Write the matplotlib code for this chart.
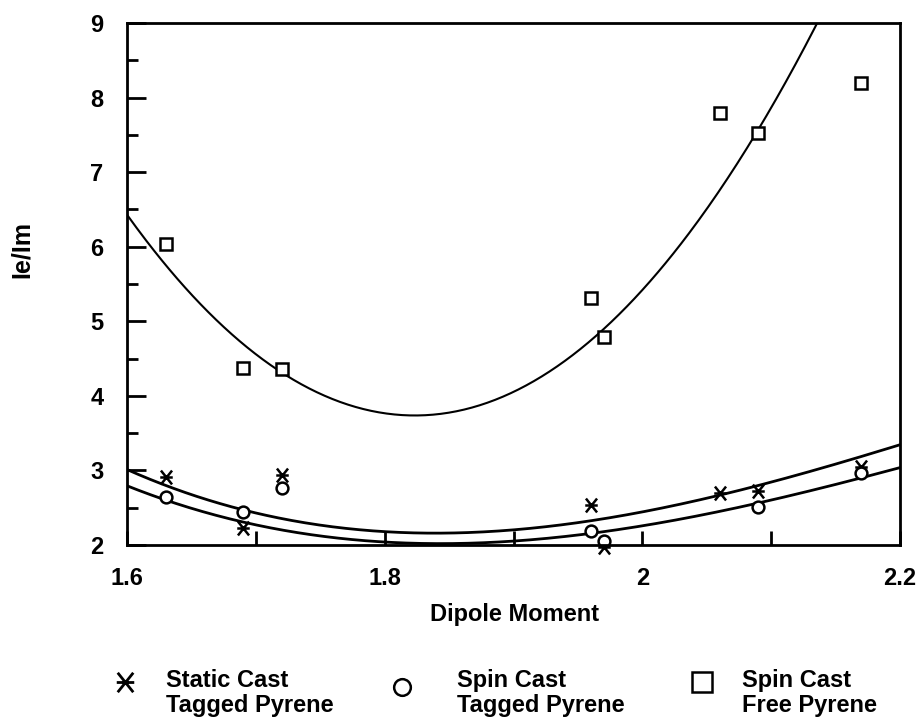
import numpy as np
import matplotlib
matplotlib.use("Agg")
import matplotlib.pyplot as plt
from matplotlib.lines import Line2D
from matplotlib.path import Path

plt.rcParams['font.family'] = ['Liberation Sans', 'DejaVu Sans']

# Static Cast Tagged Pyrene
static_x = [1.63, 1.69, 1.72, 1.96, 1.97, 2.06, 2.09, 2.17]
static_y = [2.91, 2.23, 2.94, 2.54, 1.97, 2.70, 2.72, 3.05]
# Spin Cast Tagged Pyrene
spin_x = [1.63, 1.69, 1.72, 1.96, 1.97, 2.09, 2.17]
spin_y = [2.64, 2.44, 2.76, 2.19, 2.05, 2.51, 2.97]
# Spin Cast Free Pyrene
free_x = [1.63, 1.69, 1.72, 1.96, 1.97, 2.06, 2.09, 2.17]
free_y = [6.03, 4.38, 4.36, 5.31, 4.79, 7.79, 7.53, 8.20]

# fitted curves, points
curve_free_x = [1.6, 1.7, 1.812, 1.962, 2.135]
curve_free_y = [6.47, 4.5, 3.72, 4.84, 8.95]
curve_static_x = [1.6, 1.69, 1.812, 1.848, 1.96, 2.06, 2.2]
curve_static_y = [3.0, 2.50, 2.17, 2.13, 2.33, 2.68, 3.34]
curve_spin_x = [1.6, 1.69, 1.812, 1.86, 1.96, 2.09, 2.2]
curve_spin_y = [2.78, 2.34, 2.03, 1.99, 2.16, 2.58, 3.03]

# X with a horizontal bar
xbar = Path([(-0.8, -1), (0.8, 1), (-0.8, 1), (0.8, -1), (-0.9, 0), (0.9, 0)],
            [Path.MOVETO, Path.LINETO, Path.MOVETO, Path.LINETO, Path.MOVETO, Path.LINETO])

fig = plt.figure(figsize=(9.22, 7.25), dpi=100)
ax = fig.add_axes([127/922, 1-545/725, (900-127)/922, (545-23)/725])

xx = np.linspace(1.6, 2.2, 400)
p_free = np.polyfit(curve_free_x, curve_free_y, 2)
ax.plot(xx, np.polyval(p_free, xx), color='black', lw=1.5)
for cx, cy in ((curve_static_x, curve_static_y), (curve_spin_x, curve_spin_y)):
    p = np.polyfit(cx, cy, 3)
    ax.plot(xx, np.polyval(p, xx), color='black', lw=2)

ax.plot(static_x, static_y, linestyle='none', marker=xbar, ms=10, mew=1.8, color='black', clip_on=False)
ax.plot(spin_x, spin_y, linestyle='none', marker='o', ms=8.5, mew=1.8, mfc='white', mec='black', clip_on=False)
ax.plot(free_x, free_y, linestyle='none', marker='s', ms=9, mew=1.8, mfc='white', mec='black', clip_on=False)

ax.set_xlim(1.6, 2.2)
ax.set_ylim(2, 9)
ax.set_xticks([1.6, 1.8, 2.0, 2.2])
ax.set_xticklabels(['1.6', '1.8', '2', '2.2'])
ax.set_xticks([1.7, 1.9, 2.1], minor=True)
ax.set_yticks(range(2, 10))
ax.set_yticks(np.arange(2.5, 9, 1), minor=True)
ax.tick_params(which='both', direction='in', width=2, labelsize=17)
ax.tick_params(axis='y', which='major', length=14, pad=17)
ax.tick_params(axis='y', which='minor', length=8)
ax.tick_params(axis='x', which='major', length=10, pad=16)
ax.tick_params(axis='x', which='minor', length=10)
for lab in ax.get_xticklabels() + ax.get_yticklabels():
    lab.set_fontweight('bold')
for s in ax.spines.values():
    s.set_linewidth(2)

fig.text(515/922, 1-615/725, 'Dipole Moment', ha='center', va='center', fontsize=17, fontweight='bold')
fig.text(22/922, 1-249/725, 'Ie/Im', ha='center', va='center', rotation=90, fontsize=18, fontweight='bold')

legend_labels = ['Static Cast\nTagged Pyrene', 'Spin Cast\nTagged Pyrene', 'Spin Cast\nFree Pyrene']
legend_markers = [dict(marker=xbar, color='black', ms=14, mew=2),
                  dict(marker='o', mfc='white', mec='black', ms=12, mew=1.8),
                  dict(marker='s', mfc='white', mec='black', ms=14, mew=1.8)]
mk_pos = [(125, 682), (402, 687), (702, 682)]
txt_x = [166, 457, 742]
for lab, mk, (mx, my), tx in zip(legend_labels, legend_markers, mk_pos, txt_x):
    fig.add_artist(Line2D([mx/922], [1-my/725], transform=fig.transFigure, linestyle='none', **mk))
    fig.text(tx/922, 1-693/725, lab, ha='left', va='center', fontsize=17, fontweight='bold', linespacing=1.15)

fig.savefig('out.png', dpi=100)
